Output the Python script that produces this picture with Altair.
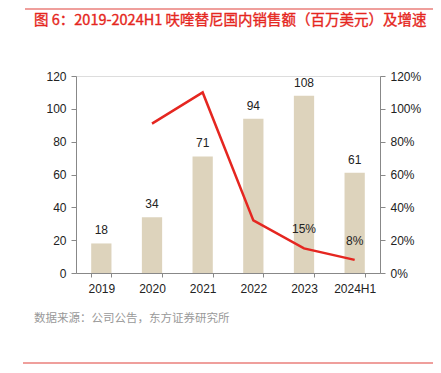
import altair as alt
import pandas as pd

years = ["2019", "2020", "2021", "2022", "2023", "2024H1"]
sales = [18, 34, 71, 94, 108, 61]
growth = [None, 0.91, 1.10, 0.32, 0.15, 0.08]
growth_labels = ["", "", "", "", "15%", "8%"]

df = pd.DataFrame({"year": years, "sales": sales, "growth": growth, "glabel": growth_labels})

FONT = "Liberation Sans"
CJK = "Noto Sans CJK SC"
BAR = "#DDD3BC"
RED = "#E52620"
AX = "#888888"

xaxis = alt.Axis(labelAngle=0, tickBand="extent", domainColor=AX, tickColor=AX,
                 labelColor="#222222", labelFontSize=12, labelFont=FONT,
                 tickSize=4, labelPadding=6)
xscale = alt.Scale(paddingInner=0.6, paddingOuter=0.3)
laxis = alt.Axis(values=[0, 20, 40, 60, 80, 100, 120], tickCount=7, grid=False,
                 domainColor=AX, tickColor=AX, tickSize=5, labelColor="#222222",
                 labelFontSize=12, labelFont=FONT, labelPadding=5, labelOverlap=False)
raxis = alt.Axis(orient="right", format=".0%", values=[0, 0.2, 0.4, 0.6, 0.8, 1.0, 1.2],
                 tickCount=7, grid=False, domainColor=AX, tickColor=AX, tickSize=5,
                 labelColor="#222222", labelFontSize=12, labelFont=FONT, labelPadding=5,
                 labelOverlap=False)
lscale = alt.Scale(domain=[0, 120])
rscale = alt.Scale(domain=[0, 1.2])

def X():
    return alt.X("year:N", sort=years, title=None, scale=xscale, axis=xaxis)

base = alt.Chart(df)

bars = base.mark_bar(color=BAR).encode(
    x=X(),
    y=alt.Y("sales:Q", title=None, scale=lscale, axis=laxis),
)
bar_text = base.mark_text(baseline="bottom", dy=-6, fontSize=12, font=FONT, color="#222222").encode(
    x=X(),
    y=alt.Y("sales:Q", title=None, scale=lscale, axis=laxis),
    text="sales:Q",
)
left = alt.layer(bars, bar_text)

line = base.transform_filter("datum.growth != null").mark_line(color=RED, strokeWidth=2.5).encode(
    x=X(),
    y=alt.Y("growth:Q", title=None, scale=rscale, axis=raxis),
)
line_text = base.transform_filter("datum.growth != null").mark_text(
    baseline="bottom", dy=-12, fontSize=12, font=FONT, color="#222222").encode(
    x=X(),
    y=alt.Y("growth:Q", title=None, scale=rscale, axis=raxis),
    text="glabel:N",
)
right = alt.layer(line, line_text)

deco = pd.DataFrame({"t": ["图 6：2019-2024H1 呋喹替尼国内销售额（百万美元）及增速"]})
title = alt.Chart(deco).mark_text(align="left", baseline="middle", fontSize=14.5, font=CJK,
                                  fontWeight="normal", color="#E52620", stroke="#E52620",
                                  strokeWidth=0.35).encode(
    x=alt.value(-42), y=alt.value(-55), text="t:N")
src = pd.DataFrame({"t": ["数据来源：公司公告，东方证券研究所"]})
source = alt.Chart(src).mark_text(align="left", baseline="middle", fontSize=11.5, font=CJK,
                                  color="#999999").encode(
    x=alt.value(-42), y=alt.value(243), text="t:N")
top_rule = alt.Chart(deco).mark_rule(color="#E0413A", strokeWidth=1.2).encode(
    x=alt.value(-51), x2=alt.value(359), y=alt.value(-67))
bot_rule = alt.Chart(deco).mark_rule(color="#E0413A", strokeWidth=1.2).encode(
    x=alt.value(-53), x2=alt.value(360), y=alt.value(287))

chart = alt.layer(left, right, title, source, top_rule, bot_rule).resolve_scale(
    y="independent"
).properties(
    width=304, height=197,
    padding={"left": 68, "top": 68, "right": 53, "bottom": 92},
    autosize=alt.AutoSizeParams(type="none"),
).configure_view(stroke=None).configure(background="white")

chart.save("out.html", embed_options={"renderer": "svg", "actions": False})
